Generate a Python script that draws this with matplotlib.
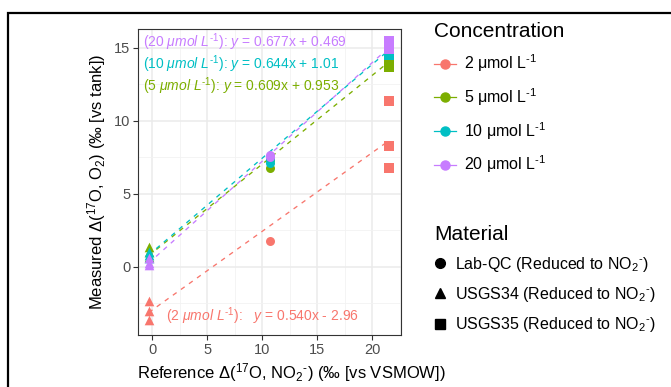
import numpy as np
import matplotlib
matplotlib.use('Agg')
import matplotlib.pyplot as plt
from matplotlib.lines import Line2D
from matplotlib.patches import Rectangle

plt.rcParams['font.family'] = ['Liberation Sans', 'DejaVu Sans']
plt.rcParams['mathtext.fontset'] = 'custom'
plt.rcParams['mathtext.rm'] = 'Liberation Sans'
plt.rcParams['mathtext.it'] = 'Liberation Sans:italic'
plt.rcParams['mathtext.bf'] = 'Liberation Sans:bold'

# ---- data
materiais = ['Lab-QC', 'USGS34', 'USGS35']
ref_x = {'Lab-QC': 10.7, 'USGS34': -0.3, 'USGS35': 21.5}
marcadores = {'Lab-QC': 'o', 'USGS34': '^', 'USGS35': 's'}

concentracoes = ['2', '5', '10', '20']
cores = ['#F8766D', '#7CAE00', '#00BFC4', '#C77CFF']

med_2 = {'Lab-QC': [1.8], 'USGS34': [-2.3, -3.0, -3.6], 'USGS35': [11.4, 8.3, 6.8]}
med_5 = {'Lab-QC': [7.3, 6.8], 'USGS34': [1.4, 1.0, 0.7], 'USGS35': [14.3, 14.0, 13.7]}
med_10 = {'Lab-QC': [7.4, 7.1], 'USGS34': [1.0, 0.8, 0.6], 'USGS35': [14.7, 14.5]}
med_20 = {'Lab-QC': [7.7, 7.5], 'USGS34': [0.6, 0.3, 0.1], 'USGS35': [15.5, 15.2, 14.9]}
medidas = [med_2, med_5, med_10, med_20]

inclinacoes = [0.540, 0.609, 0.644, 0.677]
interceptos = [-2.96, 0.953, 1.01, 0.469]
textos_eq = ['0.540x - 2.96', '0.609x + 0.953', '0.644x + 1.01', '0.677x + 0.469']

HIF = '\u2010'  # hifen curto nos expoentes, como no original

fig = plt.figure(figsize=(6.71, 3.87), dpi=100)
ax = fig.add_axes([0.2057, 0.1344, 0.392, 0.7907])

# ---- pontos e retas
xmin, xmax = min(ref_x.values()), max(ref_x.values())
xr = np.array([xmin, xmax])
for conc, cor, med, a, b in zip(concentracoes, cores, medidas, inclinacoes, interceptos):
    ax.plot(xr, a * xr + b, color=cor, lw=0.95, dashes=(3.5, 4), zorder=3)
    for mat in materiais:
        ys = med[mat]
        ax.scatter([ref_x[mat]] * len(ys), ys, marker=marcadores[mat], color=cor,
                   s=48 if marcadores[mat] != 'o' else 42, linewidths=0, zorder=4)

# ---- equacoes
pos_eq = [(0.106, 0.062), (0.02, 0.814), (0.02, 0.886), (0.02, 0.958)]
for conc, cor, txt, (px, py) in zip(concentracoes, cores, textos_eq, pos_eq):
    sep = ':   ' if conc == '2' else ': '
    s = (r'$\mathit{(' + conc + r'\ μmol\ L^{' + HIF + r'1})}$' + sep
         + r'$\mathit{y}$ = ' + txt)
    ax.text(px, py, s, transform=ax.transAxes, color=cor, fontsize=10,
            ha='left', va='center', zorder=5)

# ---- eixos estilo theme_bw
ax.set_xlim(-1.27, 22.6)
ax.set_ylim(-4.66, 16.3)
ax.set_xticks([0, 5, 10, 15, 20])
ax.set_yticks([0, 5, 10, 15])
ax.set_xticks([2.5, 7.5, 12.5, 17.5, 22.5], minor=True)
ax.set_yticks([-2.5, 2.5, 7.5, 12.5], minor=True)
ax.grid(which='major', color='#EBEBEB', lw=1.1, zorder=0)
ax.grid(which='minor', color='#F2F2F2', lw=0.6, zorder=0)
ax.set_axisbelow(True)
ax.tick_params(which='major', length=3.5, width=0.8, color='#333333',
               labelcolor='#4D4D4D', labelsize=10.5, pad=2)
ax.tick_params(which='minor', length=0)
for sp in ax.spines.values():
    sp.set_color('#333333')
    sp.set_linewidth(0.8)

ax.set_xlabel('Reference Δ($^{17}$O, NO$_{2}$$^{' + HIF + '}$) (‰ [vs VSMOW])',
              fontsize=12, labelpad=3)
ax.xaxis.set_label_coords(0.582, -0.085)
ax.set_ylabel('Measured Δ($^{17}$O, O$_2$) (‰ [vs tank])', fontsize=12, labelpad=4)

# ---- legendas
h_conc = [Line2D([0], [0], color=c, lw=0.9, marker='o', markersize=6.5)
          for c in cores]
lab_conc = [c + ' μmol L$^{' + HIF + '1}$' for c in concentracoes]
leg1 = fig.legend(h_conc, lab_conc, title='Concentration', loc='upper left',
                  bbox_to_anchor=(0.635, 0.965), frameon=False, fontsize=11.5,
                  title_fontsize=15, handlelength=1.4, handletextpad=0.5,
                  labelspacing=0.75, borderpad=0, alignment='left')

h_mat = [Line2D([0], [0], color='black', lw=0, marker=marcadores[m], markersize=7)
         for m in materiais]
lab_mat = [m + ' (Reduced to NO$_{2}$$^{' + HIF + '}$)' for m in materiais]
leg2 = fig.legend(h_mat, lab_mat, title='Material', loc='upper left',
                  bbox_to_anchor=(0.635, 0.44), frameon=False, fontsize=11.5,
                  title_fontsize=15, handlelength=0.8, handletextpad=0.5,
                  labelspacing=0.7, borderpad=0, alignment='left')

# ---- moldura preta
fig.patches.append(Rectangle((0.012, -0.1), 1.2, 1.066, transform=fig.transFigure,
                             fill=False, edgecolor='black', lw=1.6))

fig.savefig('out.png', dpi=100)
